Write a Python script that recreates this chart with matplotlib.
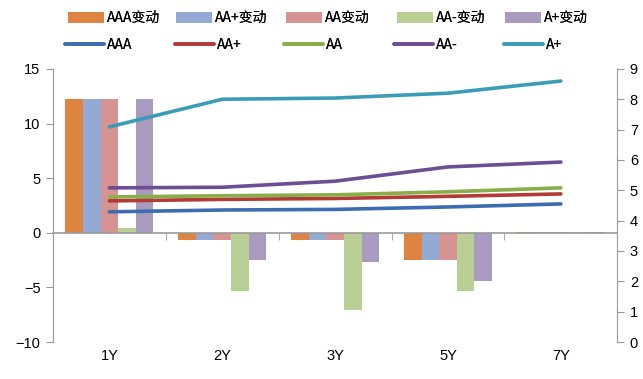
import numpy as np
import matplotlib.pyplot as plt
from matplotlib.transforms import blended_transform_factory

plt.rcParams['font.family'] = ['Liberation Sans', 'DejaVu Sans']

terms = ['1Y', '2Y', '3Y', '5Y', '7Y']

# 变动 (bars, left axis)
chg_AAA = [12.2, -0.7, -0.7, -2.5, 0.1]
chg_AAp = [12.2, -0.7, -0.7, -2.5, 0.1]
chg_AA = [12.2, -0.7, -0.7, -2.5, 0.1]
chg_AAm = [0.4, -5.3, -7.1, -5.3, 0.1]
chg_Ap = [12.2, -2.5, -2.7, -4.4, 0.1]

# 收益率 (lines, right axis)
y_AAA = [4.29, 4.35, 4.37, 4.45, 4.55]
y_AAp = [4.65, 4.70, 4.73, 4.80, 4.88]
y_AA = [4.78, 4.82, 4.85, 4.95, 5.08]
y_AAm = [5.08, 5.10, 5.30, 5.77, 5.93]
y_Ap = [7.09, 8.00, 8.04, 8.20, 8.60]

bar_names = ['AAA变动', 'AA+变动', 'AA变动', 'AA-变动', 'A+变动']
line_names = ['AAA', 'AA+', 'AA', 'AA-', 'A+']
bar_colors = ['#DE8440', '#93AAD4', '#D59392', '#B9CF95', '#A99BC0']
line_colors = ['#3D6DB0', '#B23B38', '#89AD48', '#6D4D94', '#3B9CB8']

fig = plt.figure(figsize=(6.43, 3.79), dpi=100)
ax = fig.add_axes([0.0824, 0.0976, 0.8776, 0.7206])
ax2 = ax.twinx()

x = np.arange(len(terms))
w = 0.156
bars = []
for i, (vals, c, n) in enumerate(zip([chg_AAA, chg_AAp, chg_AA, chg_AAm, chg_Ap], bar_colors, bar_names)):
    b = ax.bar(x + (i - 2) * w, vals, w, color=c, label=n)
    bars.append(b)

lines = []
for vals, c, n in zip([y_AAA, y_AAp, y_AA, y_AAm, y_Ap], line_colors, line_names):
    l, = ax2.plot(x, vals, color=c, lw=2.6, label=n, solid_capstyle='round')
    lines.append(l)

gray = '#999999'
ax.set_xlim(-0.5, 4.5)
ax.set_ylim(-10, 15)
ax.set_yticks([-10, -5, 0, 5, 10, 15])
ax2.set_ylim(0, 9)
ax2.set_yticks(range(10))

for s in ['top', 'right']:
    ax.spines[s].set_visible(False)
for s in ['top', 'left', 'bottom']:
    ax2.spines[s].set_visible(False)
ax.spines['left'].set_color(gray)
ax2.spines['right'].set_color(gray)
ax.spines['bottom'].set_position(('data', 0))
ax.spines['bottom'].set_color(gray)
ax.spines['bottom'].set_linewidth(1.2)

ax.set_xticks(x)
ax.set_xticklabels([])
ax.tick_params(axis='x', which='major', length=0)
ax.set_xticks(np.arange(-0.5, 5, 1), minor=True)
ax.tick_params(axis='x', which='minor', length=5, color=gray, direction='out')

ax.tick_params(axis='y', length=5, color=gray, labelsize=10.5, pad=4)
ax2.tick_params(axis='y', length=5, color=gray, labelsize=10.5, pad=4)

tr = blended_transform_factory(ax.transData, ax.transAxes)
for xi, t in zip(x, terms):
    ax.text(xi, -0.025, t, transform=tr, ha='center', va='top', fontsize=10.5)

# legend: one entry per box so the columns line up like the original
cjk = ['Noto Sans CJK SC', 'DejaVu Sans']
bar_x = [68, 176, 286, 397, 505]
line_x = [65, 175, 284, 394, 504]
for h, n, px in zip(bars, bar_names, bar_x):
    lg = fig.legend(handles=[h], labels=[n], loc='center left',
                    bbox_to_anchor=(px / 643, 0.952), frameon=False,
                    prop={'family': cjk, 'size': 10}, handlelength=2.6, handleheight=0.8,
                    handletextpad=0.2, borderpad=0, borderaxespad=0)
    fig.add_artist(lg)
for h, n, px in zip(lines, line_names, line_x):
    lg = fig.legend(handles=[h], labels=[n], loc='center left',
                    bbox_to_anchor=(px / 643, 0.881), frameon=False,
                    prop={'family': cjk, 'size': 10}, handlelength=2.8,
                    handletextpad=0.2, borderpad=0, borderaxespad=0)
    fig.add_artist(lg)

fig.savefig('out.png', dpi=100)
